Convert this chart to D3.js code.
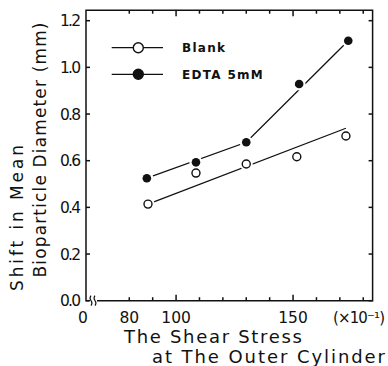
<!DOCTYPE html>
<html>
<head>
<meta charset="utf-8">
<script src="https://cdn.jsdelivr.net/npm/d3@7"></script>
<style>
  html, body { margin: 0; padding: 0; background: #fff; }
  svg { display: block; }
  text { fill: #111; font-family: "DejaVu Sans", sans-serif; }
</style>
</head>
<body>
<svg width="388" height="366"></svg>
<script>
// shear stress (x10^-1) and mean diameter shift (mm)
const shear = [88, 108.5, 130, 151.6, 172.6];
const blank = [0.414, 0.547, 0.586, 0.617, 0.706];
const edtaShear = [87.5, 108.5, 130, 152.6, 173.6];
const edta = [0.525, 0.593, 0.679, 0.929, 1.114];

// fitted lines drawn by the authors
const blankFit = [[88, 0.414], [172.6, 0.739]];
const edtaFit = [[87.5, 0.525], [130, 0.679], [173.6, 1.114]];

const yTicks = [0, 0.2, 0.4, 0.6, 0.8, 1.0, 1.2];
const xLabels = [80, 100, 150];
const xTicks = d3.range(80, 190, 10);

const svg = d3.select("svg");

const x = d3.scaleLinear().domain([61.5, 184]).range([86, 372.6]);
const y = d3.scaleLinear().domain([0, 1.2]).range([300.7, 20.7]);

const plotLeft = x.range()[0], plotRight = x.range()[1];
const plotTop = y(1.245), plotBottom = y(0);

const frame = svg.append("g")
    .attr("fill", "none")
    .attr("stroke", "#111")
    .attr("stroke-width", 1.5);

// frame: left, top, right, bottom (bottom starts after the break)
frame.append("path")
    .attr("d", `M${plotLeft + 3},${plotBottom} L${plotLeft},${plotBottom} L${plotLeft},${plotTop} L${plotRight},${plotTop} L${plotRight},${plotBottom} L${plotLeft + 11},${plotBottom}`);

// axis break squiggles
[91, 95].forEach(bx => {
    frame.append("path")
        .attr("stroke-width", 1.1)
        .attr("d", `M${bx},${plotBottom - 5} q-2,2.5 0,5 q2,2.5 0,5`);
});

// y ticks, left and right, pointing inward
yTicks.forEach(v => {
    frame.append("line")
        .attr("x1", plotLeft).attr("x2", plotLeft + 4)
        .attr("y1", y(v)).attr("y2", y(v));
    frame.append("line")
        .attr("x1", plotRight).attr("x2", plotRight - 4)
        .attr("y1", y(v)).attr("y2", y(v));
});

// x ticks, bottom and top
xTicks.forEach(v => {
    const len = (v === 100 || v === 150) ? 6 : 3.5;
    frame.append("line")
        .attr("x1", x(v)).attr("x2", x(v))
        .attr("y1", plotBottom).attr("y2", plotBottom - len);
    frame.append("line")
        .attr("x1", x(v)).attr("x2", x(v))
        .attr("y1", plotTop).attr("y2", plotTop + len);
});

// y tick labels
svg.append("g").selectAll("text")
    .data(yTicks)
    .enter().append("text")
    .attr("x", 81)
    .attr("y", d => y(d) + 5.5)
    .attr("text-anchor", "end")
    .attr("font-size", 15.5)
    .attr("textLength", 21)
    .text(d => d.toFixed(1));

// x tick labels
svg.append("text")
    .attr("x", 83).attr("y", 323)
    .attr("text-anchor", "middle")
    .attr("font-size", 15.5)
    .text("0");

svg.append("g").selectAll("text")
    .data(xLabels)
    .enter().append("text")
    .attr("x", d => x(d))
    .attr("y", 323)
    .attr("text-anchor", "middle")
    .attr("font-size", 15.5)
    .text(d => d);

svg.append("text")
    .attr("x", 333).attr("y", 323)
    .attr("font-size", 15)
    .attr("textLength", 52)
    .text("(×10⁻¹)");

// axis titles
svg.append("text")
    .attr("x", 124).attr("y", 343)
    .attr("font-size", 18)
    .attr("textLength", 178)
    .text("The Shear Stress");

svg.append("text")
    .attr("x", 152).attr("y", 363)
    .attr("font-size", 18)
    .attr("textLength", 233)
    .text("at The Outer Cylinder");

svg.append("text")
    .attr("transform", "translate(23,218) rotate(-90)")
    .attr("text-anchor", "middle")
    .attr("font-size", 17)
    .attr("textLength", 146)
    .text("Shift in Mean");

svg.append("text")
    .attr("transform", "translate(46,150) rotate(-90)")
    .attr("text-anchor", "middle")
    .attr("font-size", 17)
    .attr("textLength", 255)
    .text("Bioparticle Diameter (mm)");

// fitted lines
const line = d3.line().x(d => x(d[0])).y(d => y(d[1]));

svg.append("path")
    .datum(blankFit)
    .attr("d", line)
    .attr("fill", "none")
    .attr("stroke", "#111")
    .attr("stroke-width", 1.3);

svg.append("path")
    .datum(edtaFit)
    .attr("d", line)
    .attr("fill", "none")
    .attr("stroke", "#111")
    .attr("stroke-width", 1.3);

// markers with a white halo so lines stop short of them
const blankPts = shear.map((s, i) => [s, blank[i]]);
const edtaPts = edtaShear.map((s, i) => [s, edta[i]]);

svg.append("g").selectAll("circle")
    .data(blankPts.concat(edtaPts))
    .enter().append("circle")
    .attr("cx", d => x(d[0]))
    .attr("cy", d => y(d[1]))
    .attr("r", 6.5)
    .attr("fill", "#fff");

svg.append("g").selectAll("circle")
    .data(blankPts)
    .enter().append("circle")
    .attr("cx", d => x(d[0]))
    .attr("cy", d => y(d[1]))
    .attr("r", 4)
    .attr("fill", "#fff")
    .attr("stroke", "#111")
    .attr("stroke-width", 1.4);

svg.append("g").selectAll("circle")
    .data(edtaPts)
    .enter().append("circle")
    .attr("cx", d => x(d[0]))
    .attr("cy", d => y(d[1]))
    .attr("r", 4.3)
    .attr("fill", "#111");

// legend
const legend = svg.append("g");
const legendItems = [
    { label: "Blank", filled: false, y: 47.7 },
    { label: "EDTA 5mM", filled: true, y: 74.3 }
];

legendItems.forEach(d => {
    legend.append("line")
        .attr("x1", 111.7).attr("x2", 163)
        .attr("y1", d.y).attr("y2", d.y)
        .attr("stroke", "#111")
        .attr("stroke-width", 1.2);
    legend.append("circle")
        .attr("cx", 138.3).attr("cy", d.y)
        .attr("r", 5)
        .attr("fill", d.filled ? "#111" : "#fff")
        .attr("stroke", "#111")
        .attr("stroke-width", 1.4);
    legend.append("text")
        .attr("x", 182).attr("y", d.y + 4.5)
        .attr("font-family", "DejaVu Sans Mono, monospace")
        .attr("font-weight", "bold")
        .attr("font-size", 12)
        .attr("letter-spacing", 1.3)
        .text(d.label);
});
</script>
</body>
</html>
